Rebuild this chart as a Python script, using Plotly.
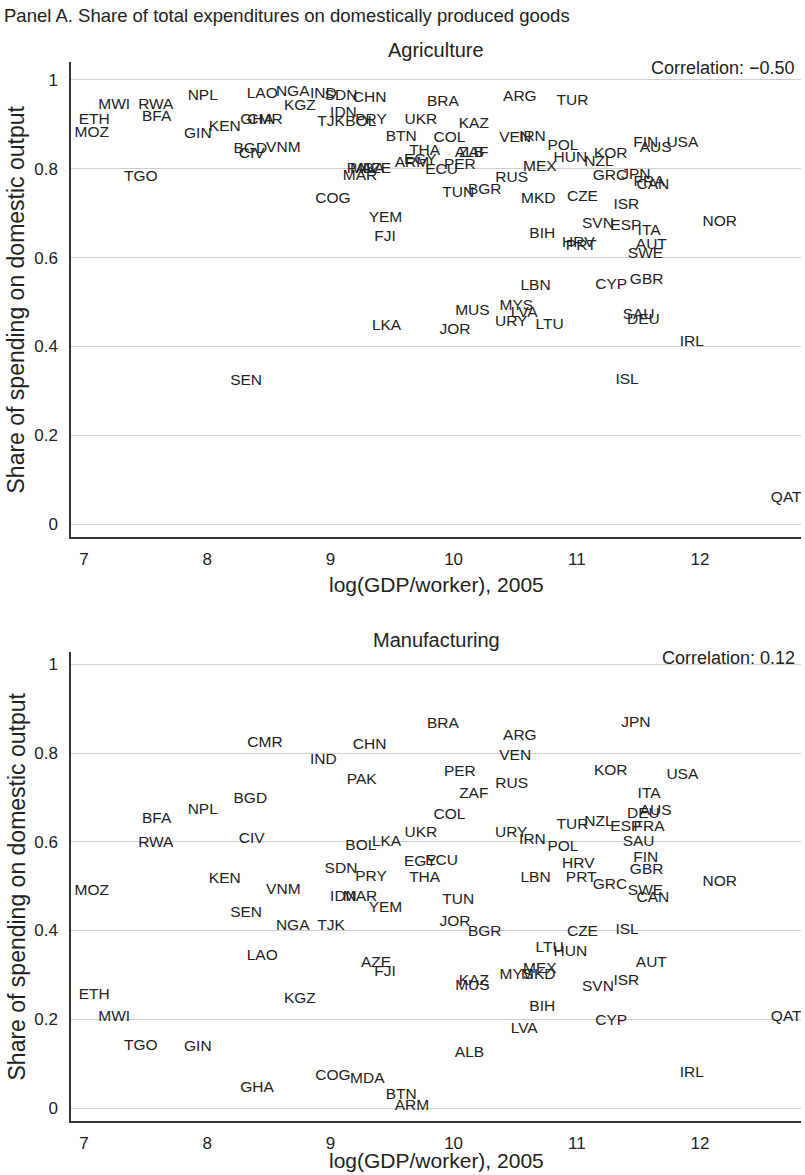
import plotly.graph_objects as go

# Country codes
countries = [
    "MWI", "RWA", "ETH", "BFA", "MOZ", "NPL", "GIN", "KEN", "LAO", "NGA",
    "KGZ", "IND", "SDN", "CHN", "GHA", "CMR", "BGD", "CIV", "VNM", "TGO",
    "COG", "TJK", "IDN", "BOL", "PRY", "BRA", "UKR", "KAZ", "ARG", "TUR",
    "BTN", "COL", "VEN", "IRN", "THA", "EGY", "ARM", "ECU", "PER", "ZAF",
    "ALB", "MEX", "RUS", "TUN", "BGR", "MKD", "YEM", "FJI", "BIH", "MAR",
    "MDA", "AZE", "PAK", "POL", "HUN", "NZL", "KOR", "FIN", "AUS", "USA",
    "GRC", "JPN", "FRA", "CAN", "CZE", "ISR", "SVN", "ESP", "ITA", "NOR",
    "HRV", "PRT", "AUT", "SWE", "CYP", "GBR", "SAU", "DEU", "IRL", "ISL",
    "QAT", "LBN", "MYS", "LVA", "URY", "LTU", "MUS", "JOR", "LKA", "SEN",
]

# log(GDP/worker), 2005
log_gdp_worker = [
    7.245, 7.583, 7.083, 7.590, 7.063, 7.964, 7.924, 8.143, 8.447, 8.694,
    8.752, 8.942, 9.086, 9.318, 8.405, 8.469, 8.350, 8.362, 8.618, 7.461,
    9.021, 9.005, 9.106, 9.247, 9.330, 9.913, 9.734, 10.164, 10.538, 10.965,
    9.575, 9.967, 10.500, 10.640, 9.765, 9.730, 9.662, 9.902, 10.051, 10.164,
    10.129, 10.700, 10.472, 10.038, 10.253, 10.688, 9.447, 9.444, 10.720, 9.240,
    9.300, 9.370, 9.254, 10.888, 10.948, 11.180, 11.276, 11.560, 11.640, 11.857,
    11.269, 11.480, 11.587, 11.618, 11.046, 11.402, 11.172, 11.398, 11.587, 12.160,
    11.012, 11.036, 11.605, 11.558, 11.280, 11.567, 11.502, 11.540, 11.934, 11.408,
    12.700, 10.665, 10.510, 10.573, 10.468, 10.780, 10.153, 10.012, 9.456, 8.316,
]

# Share of agricultural spending on domestic output
share_agriculture = [
    0.944, 0.944, 0.909, 0.916, 0.881, 0.964, 0.877, 0.894, 0.967, 0.973,
    0.941, 0.967, 0.963, 0.958, 0.909, 0.909, 0.845, 0.832, 0.847, 0.780,
    0.731, 0.905, 0.925, 0.905, 0.909, 0.949, 0.910, 0.901, 0.960, 0.952,
    0.871, 0.869, 0.868, 0.870, 0.839, 0.819, 0.812, 0.796, 0.809, 0.834,
    0.835, 0.804, 0.778, 0.746, 0.751, 0.731, 0.688, 0.646, 0.652, 0.783,
    0.798, 0.798, 0.800, 0.850, 0.823, 0.814, 0.832, 0.858, 0.847, 0.858,
    0.783, 0.785, 0.770, 0.763, 0.736, 0.718, 0.675, 0.671, 0.659, 0.680,
    0.632, 0.625, 0.628, 0.607, 0.538, 0.550, 0.470, 0.460, 0.410, 0.324,
    0.058, 0.535, 0.491, 0.475, 0.455, 0.448, 0.480, 0.436, 0.446, 0.322,
]

# Share of manufacturing spending on domestic output
share_manufacturing = [
    0.204, 0.598, 0.255, 0.651, 0.489, 0.672, 0.138, 0.516, 0.343, 0.409,
    0.246, 0.784, 0.538, 0.817, 0.044, 0.823, 0.696, 0.606, 0.491, 0.140,
    0.072, 0.410, 0.476, 0.590, 0.520, 0.865, 0.619, 0.285, 0.837, 0.638,
    0.029, 0.659, 0.793, 0.604, 0.518, 0.553, 0.005, 0.557, 0.756, 0.707,
    0.123, 0.313, 0.729, 0.469, 0.396, 0.300, 0.451, 0.307, 0.228, 0.476,
    0.065, 0.327, 0.738, 0.588, 0.351, 0.645, 0.760, 0.563, 0.670, 0.750,
    0.503, 0.867, 0.633, 0.473, 0.396, 0.285, 0.273, 0.634, 0.707, 0.509,
    0.550, 0.518, 0.326, 0.489, 0.196, 0.536, 0.600, 0.663, 0.078, 0.400,
    0.204, 0.518, 0.300, 0.177, 0.620, 0.360, 0.275, 0.418, 0.600, 0.439,
]

panel_titles = ["Agriculture", "Manufacturing"]
correlation_notes = ["Correlation: \u22120.50", "Correlation: 0.12"]
y_ticks = [0, 0.2, 0.4, 0.6, 0.8, 1]
y_tick_text = ["0", "0.2", "0.4", "0.6", "0.8", "1"]
x_ticks = [7, 8, 9, 10, 11, 12]
x_tick_text = ["7", "8", "9", "10", "11", "12"]
x_title = "log(GDP/worker), 2005"
y_title = "Share of spending on domestic output"
header = "Panel A. Share of total expenditures on domestically produced goods"

W, H = 805, 1175
FONT = "Liberation Sans, Arial, Helvetica, sans-serif"
INK = "#222222"
GRID = "#cfcfcf"
AXIS = "#333333"

# pixel layout of the two plot areas (top, bottom edges), converted to paper coords
x_left_px, x_right_px = 71, 801
panels_px = [(62, 537), (652, 1121)]
x_title_px = [584, 1160]
y_ranges = [[-0.0286, 1.04], [-0.0293, 1.0276]]
x_range = [6.8945, 12.82]

fig = go.Figure()

for i, shares in enumerate([share_agriculture, share_manufacturing]):
    suffix = "" if i == 0 else str(i + 1)
    fig.add_trace(go.Scatter(
        x=log_gdp_worker, y=shares, text=countries,
        mode="text", textposition="middle center",
        textfont=dict(family=FONT, size=15.5, color=INK),
        xaxis="x" + suffix, yaxis="y" + suffix,
        showlegend=False, hoverinfo="text",
    ))

layout = dict(
    width=W, height=H,
    margin=dict(l=0, r=0, t=0, b=0),
    paper_bgcolor="white", plot_bgcolor="white",
    font=dict(family=FONT, color=INK),
    showlegend=False,
)


def note(text, x_px, y_px, size, xanchor="center", angle=0):
    return dict(
        text=text, xref="paper", yref="paper",
        x=x_px / W, y=1 - y_px / H,
        xanchor=xanchor, yanchor="middle", showarrow=False,
        textangle=angle, font=dict(family=FONT, size=size, color=INK),
    )


annotations = [note(header, 2, 15, 18.5, xanchor="left")]

for i, (top_px, bot_px) in enumerate(panels_px):
    suffix = "" if i == 0 else str(i + 1)
    dom_y = [1 - bot_px / H, 1 - top_px / H]
    layout["xaxis" + suffix] = dict(
        domain=[x_left_px / W, x_right_px / W], range=x_range,
        tickvals=x_ticks, ticktext=x_tick_text,
        tickfont=dict(family=FONT, size=17, color=INK),
        showgrid=False, zeroline=False,
        showline=True, linecolor=AXIS, linewidth=1.5,
        ticks="", ticklabelstandoff=6,
        anchor="y" + suffix,
    )
    layout["yaxis" + suffix] = dict(
        domain=dom_y, range=y_ranges[i],
        tickvals=y_ticks, ticktext=y_tick_text,
        tickfont=dict(family=FONT, size=17, color=INK),
        showgrid=True, gridcolor=GRID, gridwidth=1.2, zeroline=False,
        showline=True, linecolor=AXIS, linewidth=1.5,
        ticks="", ticklabelstandoff=8,
        anchor="x" + suffix,
    )
    mid_x = (x_left_px + x_right_px) / 2
    annotations.append(note(panel_titles[i], mid_x, top_px - 12, 20))
    annotations.append(note(correlation_notes[i], 797, top_px + 6, 18, xanchor="right"))
    annotations.append(note(x_title, mid_x, x_title_px[i], 21))
    annotations.append(note(y_title, 16, (top_px + bot_px) / 2, 23, angle=-90))

layout["annotations"] = annotations
fig.update_layout(**layout)

fig.write_html("out.html")
